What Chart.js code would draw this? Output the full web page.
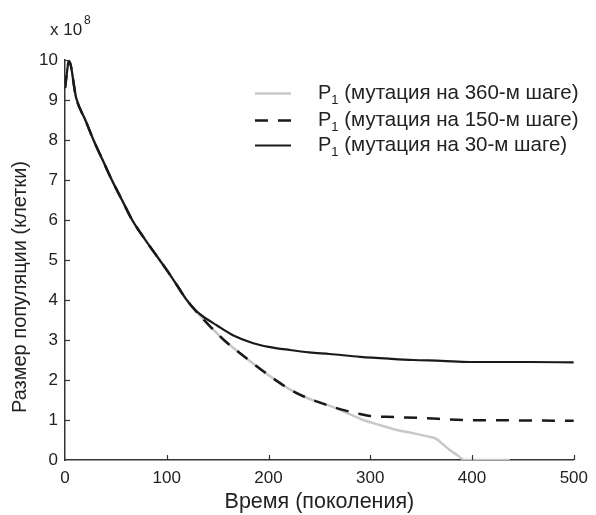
<!DOCTYPE html>
<html><head><meta charset="utf-8">
<script src="https://cdn.jsdelivr.net/npm/chart.js@4.4.0/dist/chart.umd.min.js"></script>
<style>html,body{margin:0;padding:0;background:#fff}#wrap{width:596px;height:515px}</style>
</head><body><div id="wrap"><canvas id="c" width="596" height="515"></canvas></div>
<script>
// Shared early part (all three runs identical)
const commonTime = [0, 4, 11, 20, 28, 37, 46, 56, 66, 79, 93, 100, 110, 119];
const commonSize = [9.3, 9.97, 9.05, 8.5, 8.0, 7.5, 7.0, 6.5, 6.0, 5.5, 5.0, 4.75, 4.37, 4.02];
// Mutation at step 30 (solid)
const mut30Time = [128, 135, 149, 165, 185, 200, 221, 240, 260, 290, 320, 342, 370, 398, 430, 457, 500];
const mut30Size = [3.75, 3.6, 3.37, 3.12, 2.92, 2.83, 2.75, 2.69, 2.65, 2.58, 2.53, 2.5, 2.48, 2.45, 2.45, 2.45, 2.44];
// Shared part of mutation at 150 and 360
const lateTime = [126, 134, 143, 157, 172, 188, 204, 220, 238, 250, 263];
const lateSize = [3.8, 3.57, 3.33, 2.98, 2.67, 2.35, 2.05, 1.78, 1.55, 1.44, 1.33];
// Mutation at step 150 (dashed) tail
const mut150Time = [275, 290, 300, 316, 350, 391, 450, 500];
const mut150Size = [1.24, 1.15, 1.1, 1.08, 1.05, 1.0, 0.99, 0.98];
// Mutation at step 360 (grey) tail
const mut360Time = [275, 293, 310, 326, 340, 358, 365, 371, 378, 385, 393, 437];
const mut360Size = [1.2, 1.0, 0.87, 0.75, 0.68, 0.58, 0.53, 0.4, 0.25, 0.13, 0, 0];

const xTicks = [0, 100, 200, 300, 400, 500];
const yTicks = [0, 1, 2, 3, 4, 5, 6, 7, 8, 9, 10];
const legendLabels = ['(мутация на 360-м шаге)', '(мутация на 150-м шаге)', '(мутация на 30-м шаге)'];

function pts(t, v) { return t.map((x, i) => ({x: x, y: v[i]})); }
const s360 = pts(commonTime.concat(lateTime, mut360Time), commonSize.concat(lateSize, mut360Size));
const s150 = pts(commonTime.concat(lateTime, mut150Time), commonSize.concat(lateSize, mut150Size));
const s30 = pts(commonTime.concat(mut30Time), commonSize.concat(mut30Size));

const FONT = 'Liberation Sans, Arial, sans-serif';
const TXT = '#222';

const extras = {
  id: 'extras',
  afterDraw(chart) {
    const ctx = chart.ctx;
    const xs = chart.scales.x, ys = chart.scales.y;
    const area = chart.chartArea;
    ctx.save();
    // inward ticks
    ctx.strokeStyle = '#333'; ctx.lineWidth = 1.2;
    xTicks.forEach(v => {
      if (v === 0) return;
      const px = Math.round(xs.getPixelForValue(v)) + 0.5;
      ctx.beginPath(); ctx.moveTo(px, area.bottom); ctx.lineTo(px, area.bottom - 5); ctx.stroke();
    });
    yTicks.forEach(v => {
      if (v === 0) return;
      const py = Math.round(ys.getPixelForValue(v)) + 0.5;
      ctx.beginPath(); ctx.moveTo(area.left, py); ctx.lineTo(area.left + 5, py); ctx.stroke();
    });
    // y title
    ctx.fillStyle = TXT;
    ctx.save();
    ctx.translate(20, 287); ctx.rotate(-Math.PI / 2);
    ctx.textAlign = 'center'; ctx.textBaseline = 'middle';
    ctx.font = '20px ' + FONT;
    ctx.fillText('Размер популяции (клетки)', 0, 0);
    ctx.restore();
    // exponent
    ctx.textAlign = 'left'; ctx.textBaseline = 'alphabetic';
    ctx.font = '17px ' + FONT;
    ctx.fillText('x 10', 50, 35);
    ctx.font = '12px ' + FONT;
    ctx.fillText('8', 84, 24);
    // legend
    const rows = [93, 120, 145];
    const ds = chart.data.datasets;
    rows.forEach((ry, i) => {
      const d = ds[i];
      ctx.save();
      ctx.strokeStyle = d.borderColor; ctx.lineWidth = d.borderWidth;
      ctx.setLineDash(d.borderDash || []);
      ctx.beginPath(); ctx.moveTo(255, ry + 0.5); ctx.lineTo(291, ry + 0.5); ctx.stroke();
      ctx.restore();
      ctx.fillStyle = TXT;
      ctx.textBaseline = 'middle';
      ctx.font = '20px ' + FONT;
      ctx.fillText('P', 318, ry);
      const pw = ctx.measureText('P').width;
      ctx.font = '13px ' + FONT;
      ctx.fillText('1', 318 + pw, ry + 7);
      const sw = ctx.measureText('1').width;
      ctx.font = '20.5px ' + FONT;
      ctx.fillText(' ' + legendLabels[i], 318 + pw + sw, ry);
    });
    ctx.restore();
  }
};

new Chart(document.getElementById('c'), {
  type: 'line',
  data: {
    datasets: [
      {label: 'P1 ' + legendLabels[0], data: s360, borderColor: '#c8c8c8', borderWidth: 2.5, order: 3},
      {label: 'P1 ' + legendLabels[1], data: s150, borderColor: '#1a1a1a', borderWidth: 2.5, borderDash: [13, 10], order: 2},
      {label: 'P1 ' + legendLabels[2], data: s30, borderColor: '#1a1a1a', borderWidth: 2.2, order: 1}
    ]
  },
  options: {
    responsive: false,
    animation: false,
    layout: {padding: {top: 60, right: 22, left: 0, bottom: 0}},
    elements: {point: {radius: 0}, line: {cubicInterpolationMode: 'monotone', borderCapStyle: 'butt'}},
    plugins: {legend: {display: false}, tooltip: {enabled: false}},
    scales: {
      x: {
        type: 'linear', min: 0, max: 500,
        afterBuildTicks(s) { s.ticks = xTicks.map(v => ({value: v})); },
        ticks: {color: TXT, font: {family: FONT, size: 17}, padding: 8, maxRotation: 0},
        grid: {drawOnChartArea: false, drawTicks: false},
        border: {display: true, color: '#333', width: 1.5},
        title: {display: true, text: 'Время (поколения)', color: TXT, font: {family: FONT, size: 21.5}, padding: {top: 0, bottom: 0}},
        afterFit(s) { s.height = 55; }
      },
      y: {
        type: 'linear', min: 0, max: 10,
        afterBuildTicks(s) { s.ticks = yTicks.map(v => ({value: v})); },
        ticks: {color: TXT, font: {family: FONT, size: 17}, padding: 7},
        grid: {drawOnChartArea: false, drawTicks: false},
        border: {display: true, color: '#333', width: 1.5},
        afterFit(s) { s.width = 65; }
      }
    }
  },
  plugins: [extras]
});
</script>
</body></html>
